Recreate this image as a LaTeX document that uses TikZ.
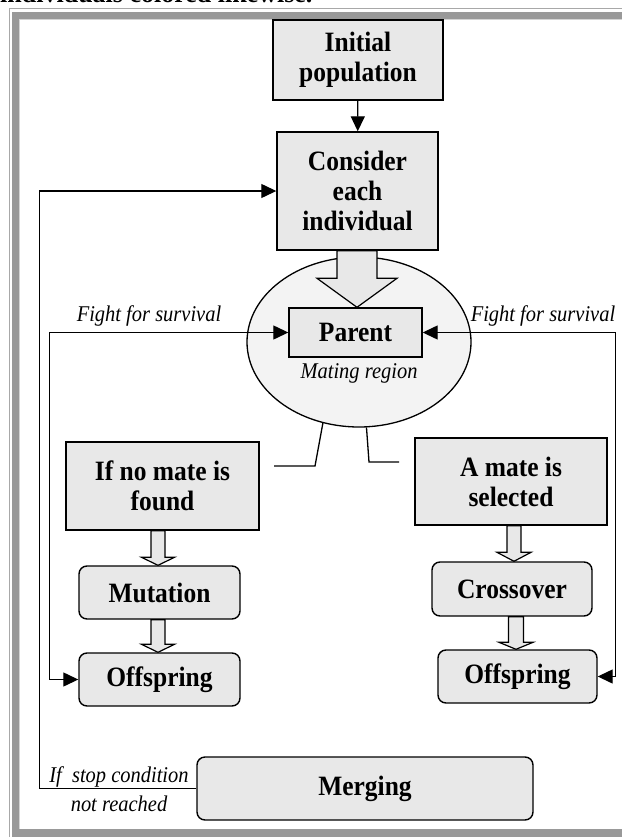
\documentclass[tikz,border=0pt]{standalone}
\usepackage{fontspec}
\setmainfont{Liberation Serif}
\newfontfamily\boxfont{Liberation Serif}[FakeStretch=0.91]
\usetikzlibrary{arrows.meta,shapes.geometric,calc}
\definecolor{boxgray}{HTML}{E8E8E8}
\definecolor{ellgray}{HTML}{F3F3F3}
\definecolor{framegray}{HTML}{999999}
\definecolor{framelight}{HTML}{A8A8A8}
\definecolor{frameinner}{HTML}{D4D4D4}
% #1 centre x, #2 source node, #3 target node, #4 shaft half width, #5 head half width, #6 head length
\newcommand{\blockarr}[6]{%
  \path[hollowarrow] let \p1=(#2.south), \p2=(#3.north) in
    (#1pt-#4pt,\y1) -- (#1pt-#4pt,\y2+#6pt) -- (#1pt-#5pt,\y2+#6pt) -- (#1pt,\y2)
    -- (#1pt+#5pt,\y2+#6pt) -- (#1pt+#4pt,\y2+#6pt) -- (#1pt+#4pt,\y1) -- cycle;}
\begin{document}
\begin{tikzpicture}[x=1pt,y=-1pt,
  boldtext/.style={font=\boxfont\bfseries\fontsize{28}{30}\selectfont},
  itext/.style={font=\boxfont\itshape\fontsize{22.5}{29}\selectfont},
  box/.style={draw=black, fill=boxgray, line width=1.4pt, boldtext, align=center,
    inner sep=0pt, minimum width=#1},
  rbox/.style={box=#1, rounded corners=8pt},
  hollowarrow/.style={draw=black, fill=boxgray, line width=1.2pt, line join=miter},
  conn/.style={draw=black, line width=1.3pt},
  tip/.style={-{Triangle[length=15pt,width=14pt]}},
  bothtips/.style={{Triangle[length=15pt,width=14pt]}-{Triangle[length=15pt,width=14pt]}}
]
\useasboundingbox (0,0) rectangle (622,837);

% surrounding text line cut by the top edge
\node[anchor=base west, inner sep=0pt, font=\bfseries\fontsize{26}{30}\selectfont] (captionline) at (0,3) {individuals colored likewise.};

% frame
\fill[framegray] (12,12) rectangle (622,19);
\fill[framegray] (12,12) rectangle (19,837);
\fill[framegray] (12,829) rectangle (622,837);
\draw[framelight, line width=1.5pt] (9.5,837) -- (9.5,8.5) -- (622,8.5);
\draw[frameinner, line width=1pt] (19.5,828.5) -- (19.5,19.5) -- (622,19.5);

% nodes
\node[box=170pt, minimum height=80pt] (init) at (358,60) {Initial\\population};
\node[box=161pt, minimum height=118pt] (consider) at (357.5,191) {Consider\\each\\individual};
\node[draw=black, fill=ellgray, line width=1.3pt, ellipse, minimum width=224pt,
  minimum height=170pt, inner sep=0pt] (region) at (359,342) {};
\node[box=133pt, minimum height=49pt] (parent) at (355.5,332.5) {Parent};
\node[itext, inner sep=0pt] (mating) at (359,373) {Mating region};

\node[box=193pt, minimum height=88pt] (nomate) at (162.5,486) {If no mate is\\found};
\node[box=192pt, minimum height=87pt] (amate) at (511,481.5) {A mate is\\selected};
\node[rbox=161pt, minimum height=53pt] (mutation) at (159.5,592.5) {Mutation};
\node[rbox=161pt, minimum height=53pt] (offL) at (159.5,679.5) {Offspring};
\node[rbox=160pt, minimum height=54pt] (crossover) at (512,589) {Crossover};
\node[rbox=159pt, minimum height=53pt] (offR) at (517.5,676.5) {Offspring};
\node[rbox=336pt, minimum height=63pt] (merging) at (365,788.5) {Merging};

% labels
\node[itext, inner sep=0pt] (fightL) at (149,316) {Fight for survival};
\node[itext, inner sep=0pt] (fightR) at (543,316) {Fight for survival};
\node[itext, inner sep=0pt, align=center] (stopc) at (119,789) {If\ \ stop condition\\not reached};

% block arrows
\blockarr{357}{consider}{parent}{20}{40}{29}
\blockarr{158}{nomate}{mutation}{7}{16.5}{8}
\blockarr{158}{mutation}{offL}{7}{16.5}{8}
\blockarr{514}{amate}{crossover}{7}{17}{9}
\blockarr{516}{crossover}{offR}{7.5}{17}{7}

% connectors
\draw[conn, tip] (init) -- (consider);
\draw[conn, tip] (merging.west) -- ++(-157,0) |- (consider.west);
\draw[conn, bothtips] (parent.west) -- ++(-239,0) |- (offL.west);
\draw[conn, bothtips] (parent.east) -- ++(193,0) |- (offR.east);

% split lines under the mating region
\coordinate (lbend) at (315,466);
\coordinate (lend) at (274,466);
\coordinate (rbend) at (369,462);
\coordinate (rend) at (399,462);
\draw[conn] (region.246) -- (lbend) -- (lend);
\draw[conn] (region.275) -- (rbend) -- (rend);
\end{tikzpicture}
\end{document}
